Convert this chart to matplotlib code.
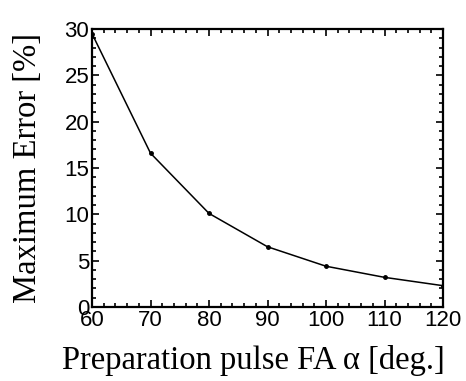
import matplotlib
matplotlib.use("Agg")
import matplotlib.pyplot as plt
from matplotlib.ticker import MultipleLocator

# flip angle of the preparation pulse vs maximum error
fa = [60, 70, 80, 90, 100, 110, 120]
max_err = [29.5, 16.6, 10.1, 6.5, 4.4, 3.2, 2.3]

fig = plt.figure(figsize=(4.66, 3.81), dpi=100)
ax = fig.add_axes([92/466, 1 - 307/381, (443-92)/466, (307-29)/381])

ax.plot(fa, max_err, "-", color="black", lw=1.1, marker="o", ms=2.5)

ax.set_xlim(60, 120)
ax.set_ylim(0, 30)
ax.xaxis.set_major_locator(MultipleLocator(10))
ax.xaxis.set_minor_locator(MultipleLocator(2))
ax.yaxis.set_major_locator(MultipleLocator(5))
ax.yaxis.set_minor_locator(MultipleLocator(1))
ax.tick_params(which="both", direction="in", top=True, right=True, width=1.2)
ax.tick_params(which="major", length=5, labelsize=16, pad=2)
ax.tick_params(which="minor", length=3)
for lab in ax.get_xticklabels() + ax.get_yticklabels():
    lab.set_family("Liberation Sans")
for s in ax.spines.values():
    s.set_linewidth(1.6)

ax.set_xlabel("Preparation pulse FA \u03b1 [deg.]", family="Liberation Serif", fontsize=23.5)
ax.set_ylabel("Maximum Error [%]", family="Liberation Serif", fontsize=23.5)
ax.xaxis.set_label_coords(0.46, -0.135)
ax.yaxis.set_label_coords(-0.14, 0.5)

fig.savefig("out.png", dpi=100)
